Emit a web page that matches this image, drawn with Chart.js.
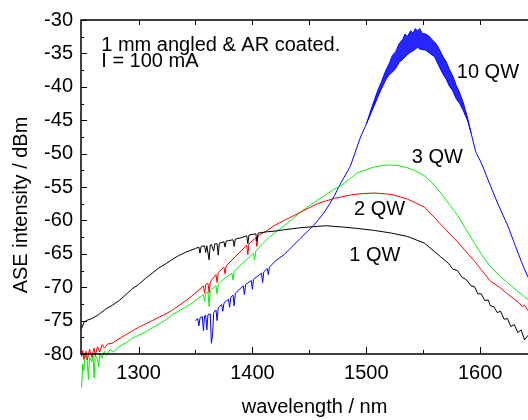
<!DOCTYPE html>
<html>
<head>
<meta charset="utf-8">
<script src="https://cdn.jsdelivr.net/npm/chart.js@4.4.1/dist/chart.umd.min.js"></script>
<style>
  body { margin: 0; background: #fff; }
  #wrap { width: 528px; height: 420px; }
</style>
</head>
<body>
<div id="wrap"><canvas id="aseChart" width="528" height="420"></canvas></div>
<script>
// tick labels
const xTickValues = [1300, 1400, 1500, 1600];
const xMinorValues = [1350, 1450, 1550];
const yTickValues = [-30, -35, -40, -45, -50, -55, -60, -65, -70, -75, -80];
const yMinorValues = [-32.5, -37.5, -42.5, -47.5, -52.5, -57.5, -62.5, -67.5, -72.5, -77.5];

// 1 QW, [wavelength nm, dBm]
const qw1 = [
    [1250, -76.2], [1252, -75.3], [1254, -75.0], [1259, -74.7], [1265, -74.1], [1271, -73.3],
    [1277, -72.7], [1283, -72.0], [1289, -71.1], [1294, -70.3], [1300, -69.6], [1306, -68.7],
    [1312, -67.9], [1318, -67.1], [1324, -66.5], [1329, -65.9], [1335, -65.3], [1341, -64.8],
    [1347, -64.4], [1350, -64.2], [1353, -64.0], [1354, -64.9], [1355, -63.9], [1358, -63.8],
    [1359, -64.8], [1360, -63.8], [1362, -65.9], [1363, -63.7], [1364, -63.6], [1366, -64.6],
    [1367, -63.5], [1369, -63.5], [1370, -65.2], [1371, -63.4], [1375, -63.2], [1376, -64.0],
    [1377, -63.1], [1383, -62.9], [1384, -63.9], [1385, -62.8], [1390, -62.6], [1395, -62.3],
    [1396, -63.5], [1397, -62.2], [1403, -62.0], [1404, -63.1], [1405, -61.9], [1413, -61.7],
    [1420, -61.6], [1428, -61.4], [1442, -61.1], [1457, -60.9], [1465, -60.8], [1472, -60.9],
    [1480, -61.0], [1492, -61.2], [1507, -61.5], [1522, -61.9], [1536, -62.4], [1551, -63.4],
    [1565, -65.4], [1572, -66.4], [1576, -67.3], [1580, -67.5], [1584, -68.5], [1588, -68.9],
    [1592, -69.8], [1595, -69.9], [1598, -71.0], [1601, -71.0], [1604, -72.0], [1607, -71.9],
    [1609, -72.8], [1612, -72.9], [1615, -73.8], [1618, -73.6], [1621, -74.8], [1624, -74.7],
    [1627, -75.9], [1630, -75.6], [1633, -76.8], [1636, -76.4], [1639, -77.9], [1642, -77.2]
];

// 2 QW
const qw2 = [
    [1250, -80.4], [1251, -79.5], [1252, -80.8], [1254, -79.6], [1255, -80.9], [1257, -79.3],
    [1259, -80.5], [1261, -79.1], [1262, -80.2], [1264, -78.9], [1266, -79.7], [1268, -78.6],
    [1270, -79.1], [1273, -78.5], [1277, -78.4], [1282, -77.8], [1288, -77.2], [1294, -76.6],
    [1300, -76.0], [1306, -75.5], [1312, -75.0], [1318, -74.5], [1324, -74.0], [1330, -73.4],
    [1335, -72.8], [1341, -72.1], [1347, -71.3], [1353, -70.4], [1357, -69.8], [1358, -70.9],
    [1359, -69.6], [1361, -69.4], [1362, -70.8], [1363, -69.2], [1368, -68.1], [1369, -69.3],
    [1370, -67.8], [1375, -67.0], [1376, -68.0], [1377, -66.8], [1384, -65.6], [1390, -64.6],
    [1395, -63.7], [1396, -65.1], [1397, -63.5], [1403, -62.6], [1404, -63.9], [1405, -62.3],
    [1413, -61.5], [1420, -60.7], [1428, -60.0], [1442, -58.8], [1457, -57.5], [1472, -56.7],
    [1486, -56.2], [1495, -56.0], [1507, -55.9], [1522, -56.1], [1536, -56.8], [1551, -58.0],
    [1565, -60.5], [1580, -63.2], [1595, -66.1], [1609, -69.1], [1617, -70.0], [1624, -71.0],
    [1630, -71.8], [1634, -72.3], [1637, -72.9], [1639, -72.7], [1642, -73.5]
];

// 3 QW
const qw3 = [
    [1250, -85.0], [1251, -81.5], [1252, -82.5], [1253, -80.2], [1255, -81.0], [1256, -83.8],
    [1257, -80.5], [1259, -81.2], [1260, -80.0], [1261, -83.6], [1262, -80.2], [1264, -80.8],
    [1265, -81.9], [1266, -79.9], [1268, -80.6], [1270, -79.6], [1272, -80.2], [1275, -79.4],
    [1278, -79.7], [1283, -78.9], [1289, -78.3], [1294, -77.7], [1300, -77.2], [1306, -76.7],
    [1312, -76.1], [1318, -75.5], [1324, -74.9], [1329, -74.2], [1335, -73.6], [1341, -73.0],
    [1347, -72.4], [1353, -71.6], [1357, -71.1], [1358, -72.1], [1359, -70.9], [1361, -70.7],
    [1362, -72.9], [1363, -70.5], [1368, -69.8], [1369, -71.0], [1370, -69.5], [1376, -68.6],
    [1382, -67.9], [1383, -68.9], [1384, -67.6], [1391, -66.5], [1398, -65.4], [1401, -64.9],
    [1402, -65.9], [1403, -64.6], [1413, -62.8], [1420, -61.8], [1428, -60.8], [1435, -59.8],
    [1442, -58.8], [1450, -57.8], [1457, -57.0], [1465, -56.1], [1472, -55.3], [1478, -54.8],
    [1486, -53.7], [1492, -52.9], [1500, -52.4], [1507, -52.0], [1514, -51.8], [1521, -51.7],
    [1528, -51.8], [1536, -52.1], [1543, -52.6], [1551, -53.3], [1558, -54.4], [1565, -55.8],
    [1572, -57.4], [1580, -59.2], [1587, -61.2], [1595, -63.4], [1602, -65.3], [1609, -66.9],
    [1617, -68.3], [1624, -69.3], [1632, -70.5], [1636, -71.0], [1639, -71.5], [1642, -71.8]
];

// 10 QW, upper edge of the ripple
const qw10 = [
    [1350, -75.0], [1352, -74.7], [1353, -75.8], [1354, -74.6], [1356, -74.4], [1357, -76.5],
    [1358, -74.3], [1359, -74.2], [1360, -76.4], [1361, -74.1], [1363, -74.0], [1364, -78.4],
    [1365, -77.2], [1366, -73.8], [1368, -73.4], [1369, -75.0], [1370, -73.1], [1373, -72.6],
    [1374, -73.6], [1375, -72.4], [1379, -71.8], [1380, -73.0], [1381, -71.5], [1383, -71.2],
    [1384, -72.8], [1385, -70.9], [1390, -70.1], [1392, -69.8], [1393, -71.1], [1394, -69.6],
    [1399, -69.0], [1400, -70.3], [1401, -68.8], [1408, -67.9], [1409, -69.3], [1410, -67.7],
    [1413, -67.2], [1414, -68.1], [1415, -67.0], [1420, -66.1], [1428, -65.1], [1435, -63.9],
    [1442, -62.7], [1448, -61.7], [1454, -60.7], [1458, -59.9], [1463, -58.8], [1468, -57.5],
    [1472, -56.3], [1478, -54.3], [1486, -51.9], [1495, -47.5], [1500, -45.6], [1505, -43.0],
    [1510, -40.6], [1513, -39.4], [1517, -37.6], [1520, -36.6], [1523, -35.3], [1526, -34.7],
    [1529, -33.5], [1532, -32.9], [1534, -32.1], [1536, -32.5], [1539, -31.6], [1541, -32.0],
    [1543, -31.3], [1545, -31.6], [1547, -31.3], [1549, -32.0], [1552, -32.1], [1555, -32.4],
    [1558, -33.0], [1560, -33.3], [1563, -34.0], [1567, -35.4], [1570, -36.2], [1573, -37.4],
    [1576, -38.4], [1579, -39.8], [1582, -40.9], [1585, -42.3], [1589, -44.7], [1592, -46.9],
    [1596, -49.7], [1601, -51.4], [1609, -54.8], [1616, -57.7], [1624, -60.7], [1630, -63.4],
    [1636, -66.1], [1642, -68.5]
];

// 10 QW, lower edge of the ripple
const qw10Low = [
    [1500, -45.6], [1505, -43.6], [1510, -41.6], [1513, -40.4], [1517, -39.0], [1520, -38.2],
    [1523, -37.8], [1526, -37.2], [1529, -36.3], [1532, -35.9], [1536, -35.2], [1539, -34.8],
    [1542, -34.5], [1545, -34.1], [1548, -34.4], [1552, -34.5], [1556, -35.0], [1560, -35.5],
    [1563, -36.6], [1567, -38.0], [1570, -38.8], [1573, -39.9], [1576, -40.6], [1579, -41.8],
    [1582, -42.5], [1585, -43.5], [1589, -45.1], [1592, -46.9]
];

const curveLabels = [
    { text: '10 QW', wl: 1579.5, dbm: -38.7 },
    { text: '3 QW', wl: 1540, dbm: -51.4 },
    { text: '2 QW', wl: 1489.3, dbm: -59.25 },
    { text: '1 QW', wl: 1485, dbm: -66.1 }
];
const noteLines = ['1 mm angled & AR coated.', 'I = 100 mA'];

const FONT = '20px "Liberation Sans", Arial, Helvetica, sans-serif';
const toXY = pts => pts.map(p => ({ x: p[0], y: p[1] }));

const frameAndText = {
    id: 'frameAndText',
    afterDatasetsDraw(chart) {
        const { ctx, chartArea: a, scales: { x, y } } = chart;
        ctx.save();
        ctx.strokeStyle = '#000';
        ctx.lineWidth = 1.5;
        ctx.beginPath();
        ctx.moveTo(a.right, a.top);
        ctx.lineTo(a.left, a.top);
        ctx.lineTo(a.left, a.bottom);
        ctx.lineTo(a.right, a.bottom);
        ctx.stroke();

        ctx.lineWidth = 1;
        ctx.beginPath();
        const xMark = (v, bottomLen, topLen) => {
            const px = Math.round(x.getPixelForValue(v)) + 0.5;
            ctx.moveTo(px, a.bottom); ctx.lineTo(px, a.bottom - bottomLen);
            ctx.moveTo(px, a.top); ctx.lineTo(px, a.top + topLen);
        };
        xTickValues.forEach(v => xMark(v, 7, 5));
        xMinorValues.forEach(v => xMark(v, 4, 5));
        const yMark = (v, len) => {
            const py = Math.round(y.getPixelForValue(v)) + 0.5;
            ctx.moveTo(a.left, py); ctx.lineTo(a.left + len, py);
        };
        yTickValues.forEach(v => yMark(v, 6));
        yMinorValues.forEach(v => yMark(v, 3));
        ctx.stroke();

        ctx.fillStyle = '#000';
        ctx.font = FONT;
        ctx.textAlign = 'left';
        ctx.textBaseline = 'alphabetic';
        curveLabels.forEach(l => {
            ctx.fillText(l.text, x.getPixelForValue(l.wl), y.getPixelForValue(l.dbm));
        });
        ctx.fillText(noteLines[0], x.getPixelForValue(1267.3), y.getPixelForValue(-34.7));
        ctx.fillText(noteLines[1], x.getPixelForValue(1267.3), y.getPixelForValue(-37.1));

        // axis titles
        ctx.textAlign = 'center';
        ctx.fillText('wavelength / nm', (a.left + a.right) / 2 + 10, 413);
        ctx.translate(27, (a.top + a.bottom) / 2 + 18);
        ctx.rotate(-Math.PI / 2);
        ctx.fillText('ASE intensity / dBm', 0, 0);
        ctx.restore();
    }
};

const line = (data, color) => ({
    data: toXY(data),
    borderColor: color,
    borderWidth: 1,
    pointRadius: 0,
    fill: false,
    tension: 0,
    clip: false
});

new Chart(document.getElementById('aseChart').getContext('2d'), {
    type: 'line',
    data: {
        datasets: [
            line(qw1, '#000000'),
            line(qw2, '#ff0000'),
            line(qw3, '#00f000'),
            line(qw10, '#0000ff'),
            Object.assign(line(qw10Low, '#0000ff'), { fill: '-1', backgroundColor: 'rgba(0, 0, 255, 0.85)' })
        ]
    },
    options: {
        responsive: false,
        animation: false,
        events: [],
        layout: { padding: { top: 15, right: 0, left: 0, bottom: 0 } },
        plugins: {
            legend: { display: false },
            tooltip: { enabled: false }
        },
        scales: {
            x: {
                type: 'linear',
                min: 1249.5,
                max: 1642,
                afterFit: s => { s.height = 66; },
                afterBuildTicks: s => { s.ticks = xTickValues.map(v => ({ value: v })); },
                grid: { display: false, drawTicks: false },
                border: { display: false },
                ticks: {
                    color: '#000',
                    padding: 7,
                    maxRotation: 0,
                    callback: v => String(v),
                    font: { family: '"Liberation Sans", Arial, sans-serif', size: 20 }
                }
            },
            y: {
                type: 'linear',
                min: -80,
                max: -30,
                afterFit: s => { s.width = 81; },
                afterBuildTicks: s => { s.ticks = yTickValues.map(v => ({ value: v })); },
                grid: { display: false, drawTicks: false },
                border: { display: false },
                ticks: {
                    color: '#000',
                    padding: 8,
                    callback: v => String(v),
                    font: { family: '"Liberation Sans", Arial, sans-serif', size: 20 }
                }
            }
        }
    },
    plugins: [frameAndText]
});
</script>
</body>
</html>
